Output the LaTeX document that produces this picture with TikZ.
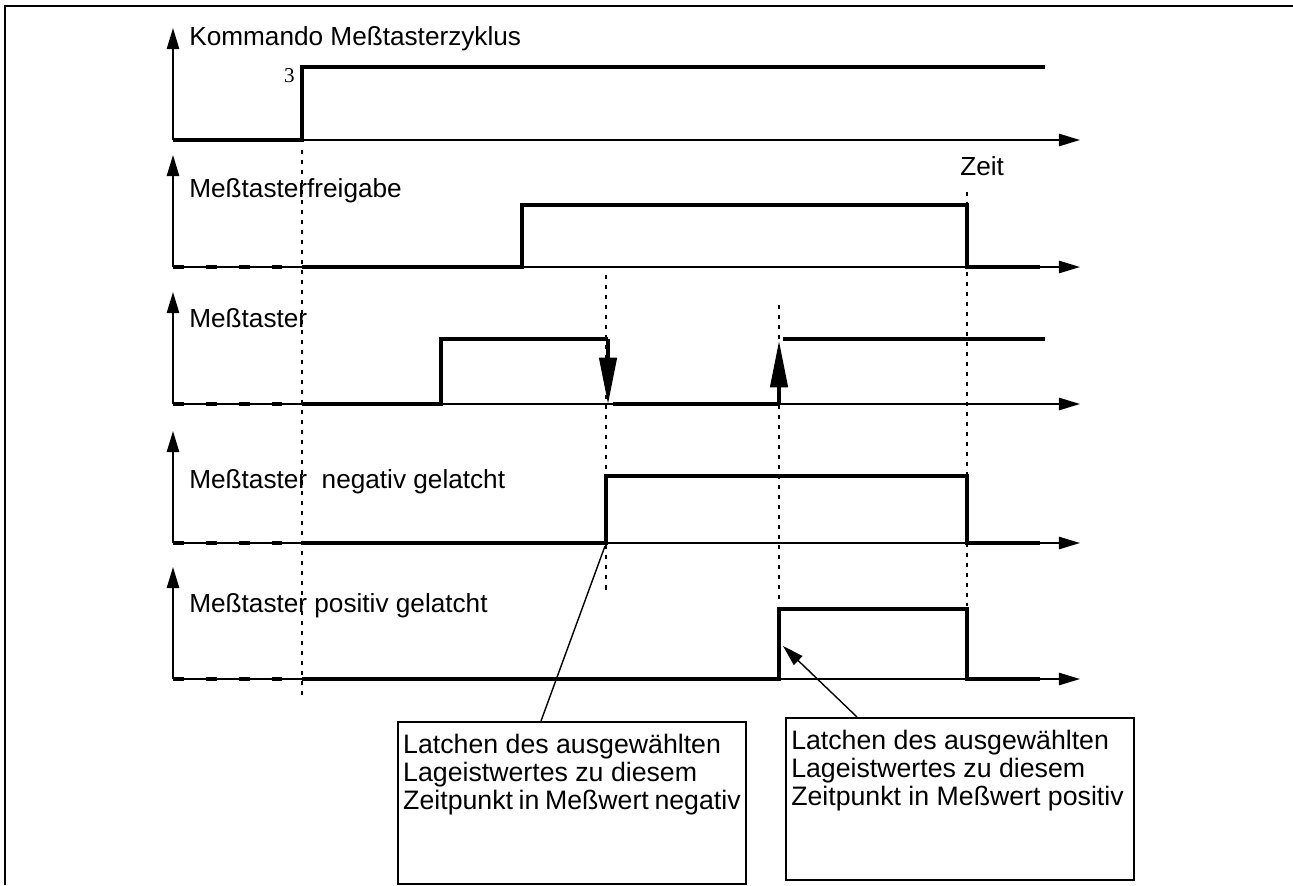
\documentclass[tikz,border=0pt]{standalone}
\usepackage{fontspec}
\setmainfont{Liberation Sans}
\newfontfamily\serifdigit{Liberation Serif}
\usetikzlibrary{arrows.meta,calc}

% text block inside the callout boxes, kept at the top
\newcommand{\boxtext}[1]{\parbox[t][3.03cm][t]{6.75cm}{\vspace*{4pt}#1}}

\begin{document}
\begin{tikzpicture}[x=0.02cm, y=-0.02cm,
   axis/.style={line width=1pt, -{Triangle[length=12pt,width=7pt]}},
   signal/.style={line width=2.8pt, line join=miter},
   idle/.style={line width=2.8pt, dash pattern=on 6.2pt off 12.5pt},
   marker/.style={line width=1.1pt, dash pattern=on 2.3pt off 3.4pt},
   edgearrow/.style={signal, -{Triangle[length=27pt,width=9.6pt]}},
   siglabel/.style={anchor=base west, inner sep=0pt, font=\fontsize{14.9}{17}\selectfont},
   callout/.style={draw, line width=1.1pt, anchor=north west, inner sep=3pt,
                   font=\fontsize{15.2}{16}\selectfont},
   lead/.style={line width=0.8pt}]
   \useasboundingbox (0,0) rectangle (1293,885);

   % frame
   \draw[line width=1.2pt] (5,885) -- (5,6) -- (1293,6);

   % axes of the five signals
   \foreach \b in {140,267,404,543,679} {
     \draw[axis] (173,\b) -- (173,\b-112);
     \draw[axis] (173,\b) -- (1080,\b);
   }

   % undefined level before the cycle starts
   \foreach \b in {267,404,543,679}
     \draw[idle] (173,\b) -- (302,\b);

   % time markers
   \draw[marker] (302,150) -- (302,695);
   \draw[marker] (606,275) -- (606,592);
   \draw[marker] (779,305) -- (779,605);
   \draw[marker] (967,192) -- (967,606);

   % signals
   \draw[signal] (173,140) -- (302,140) -- (302,67) -- (1045,67);
   \draw[signal] (302,267) -- (522,267) -- (522,205) -- (967,205) -- (967,267) -- (1040,267);
   \draw[signal] (302,404) -- (441,404) -- (441,339) -- (608,339);
   \draw[edgearrow] (608,339) -- (608,405);
   \draw[signal] (613,404) -- (778,404);
   \draw[edgearrow] (779,404) -- (779,340);
   \draw[signal] (783,339) -- (1045,339);
   \draw[signal] (302,543) -- (606,543) -- (606,476) -- (967,476) -- (967,543) -- (1040,543);
   \draw[signal] (302,679) -- (779,679) -- (779,609) -- (967,609) -- (967,679) -- (1040,679);

   % labels
   \node[siglabel] (cmdlabel) at (189,46) {Kommando Meßtasterzyklus};
   \node[siglabel] (enablelabel) at (189,197) {Meßtasterfreigabe};
   \node[siglabel] (probelabel) at (189,327) {Meßtaster};
   \node[siglabel] (neglabel) at (189,488) {Meßtaster\ \ negativ gelatcht};
   \node[siglabel] (poslabel) at (189,612) {Meßtaster positiv gelatcht};
   \node[siglabel] (timelabel) at (960,175) {Zeit};
   \node[anchor=base east, inner sep=0pt, font=\serifdigit\fontsize{12}{14}\selectfont] (levellabel) at (295,83) {3};

   % callouts
   \node[callout] (negbox) at (397,721)
     {\boxtext{Latchen des ausgewählten\\Lageistwertes zu diesem\\Zeitpunkt in Meßwert negativ}};
   \node[callout] (posbox) at (785,717)
     {\boxtext{Latchen des ausgewählten\\Lageistwertes zu diesem\\Zeitpunkt in Meßwert positiv}};
   \coordinate (negedge) at (605,546);
   \coordinate (posedge) at (783,646);
   \draw[lead] ($(negbox.north west)+(144,0)$) -- (negedge);
   \draw[lead, -{Triangle[length=12pt,width=7pt]}] ($(posbox.north west)+(72,0)$) -- (posedge);
\end{tikzpicture}
\end{document}
